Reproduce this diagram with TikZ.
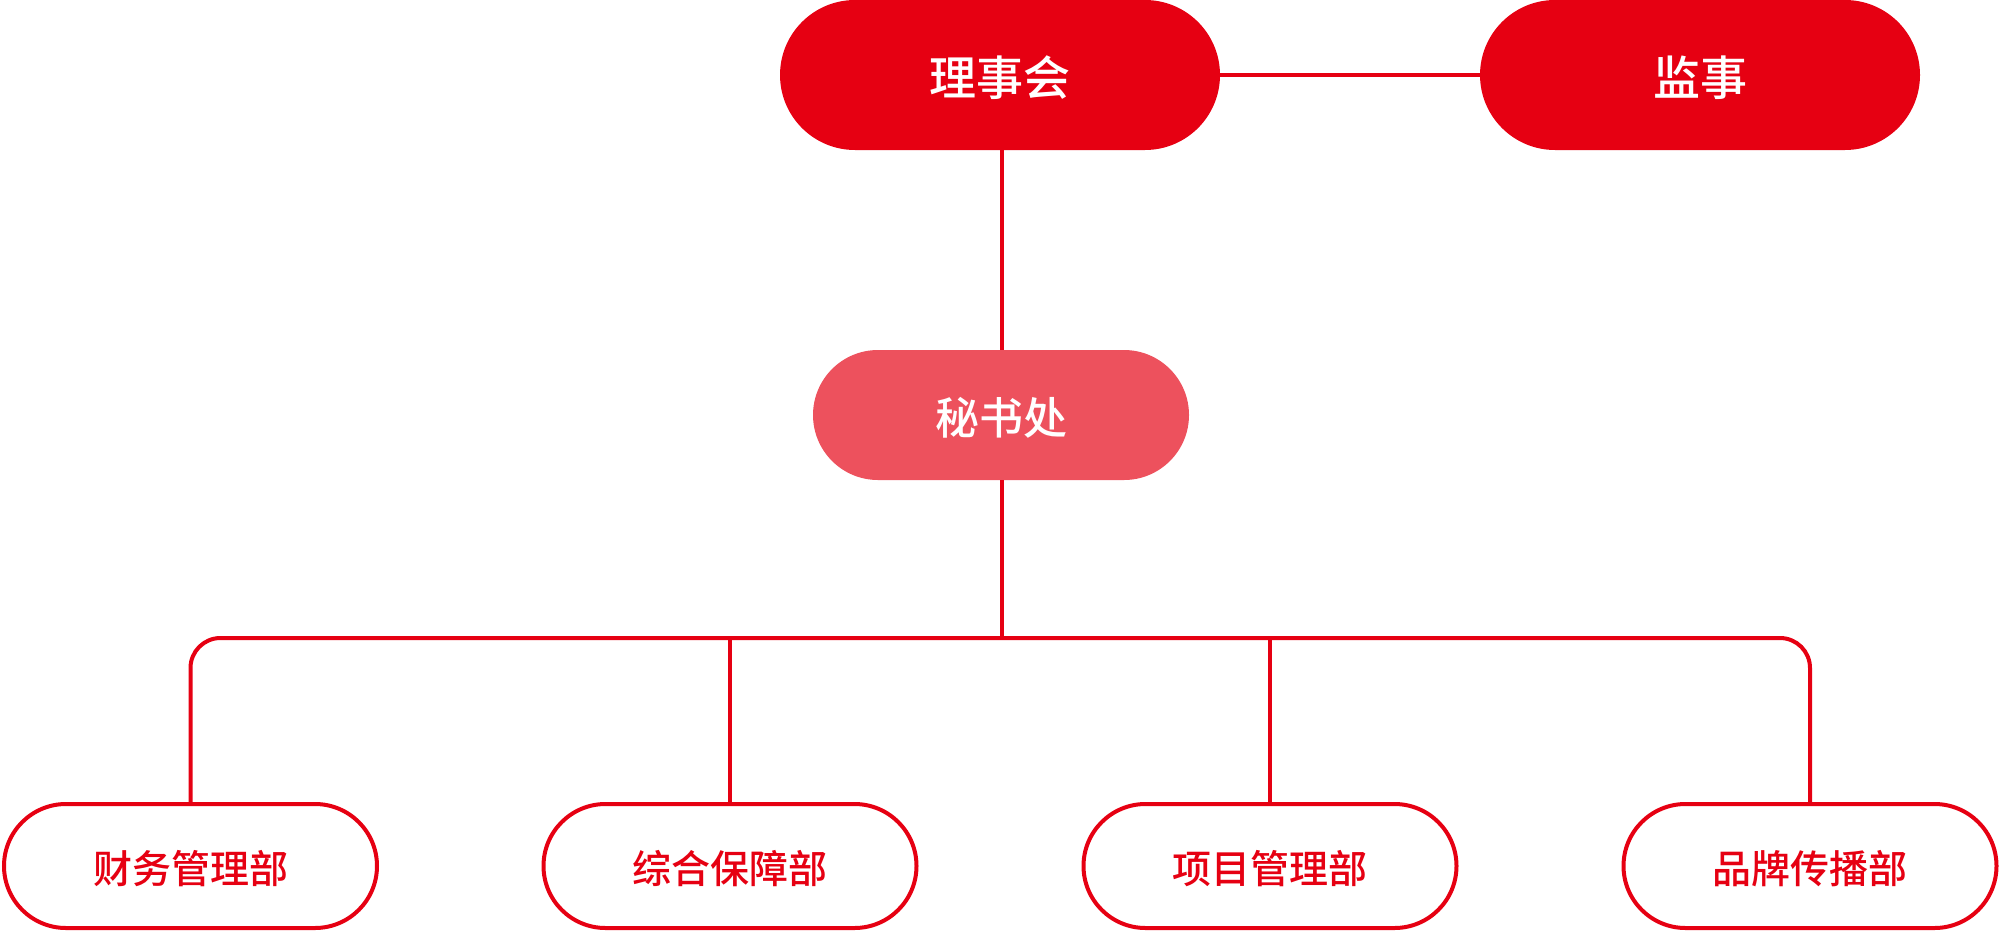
\documentclass[tikz,border=0pt]{standalone}
\usepackage{fontspec}
\newfontfamily\cjk{Noto Sans CJK SC Medium}
\definecolor{mainred}{HTML}{E60012}
\definecolor{lightred}{HTML}{ED515D}
\begin{document}
\begin{tikzpicture}[x=1pt,y=-1pt,
  topbox/.style={fill=mainred, draw=none, minimum width=440pt, minimum height=150pt, rounded corners=75pt, inner sep=0pt,
    label={[text=white, font=\cjk\fontsize{47}{50}\selectfont, yshift=-3pt, inner sep=0pt]center:#1}},
  secbox/.style={fill=lightred, draw=none, minimum width=376pt, minimum height=130pt, rounded corners=65pt, inner sep=0pt,
    label={[text=white, font=\cjk\fontsize{44}{48}\selectfont, yshift=-3pt, inner sep=0pt]center:#1}},
  deptbox/.style={draw=mainred, line width=4pt, fill=white, minimum width=373pt, minimum height=124pt, rounded corners=62pt, inner sep=0pt,
    label={[text=mainred, font=\cjk\fontsize{39}{42}\selectfont, yshift=-3pt, inner sep=0pt]center:#1}},
  link/.style={draw=mainred, line width=4pt}
]
\useasboundingbox (0,0) rectangle (2000,932);
\node[topbox=理事会] (board) at (1000,75) {};
\node[topbox=监事] (sup) at (1700,75) {};
\node[secbox=秘书处] (sec) at (1001,415) {};
\coordinate (bus) at (1002,638);
\node[deptbox=财务管理部] (d1) at (190.5,866) {};
\node[deptbox=综合保障部] (d2) at (730,866) {};
\node[deptbox=项目管理部] (d3) at (1270,866) {};
\node[deptbox=品牌传播部] (d4) at (1810,866) {};
\draw[link] (board.east) -- (sup.west);
\draw[link] (board.south -| bus) -- (sec.north -| bus);
\draw[link] (sec.south -| bus) -- (bus);
\draw[link, rounded corners=30pt] (d1.north) |- (bus) -| (d4.north);
\draw[link] (d2.north) -- (d2.north |- bus);
\draw[link] (d3.north) -- (d3.north |- bus);
\end{tikzpicture}
\end{document}
